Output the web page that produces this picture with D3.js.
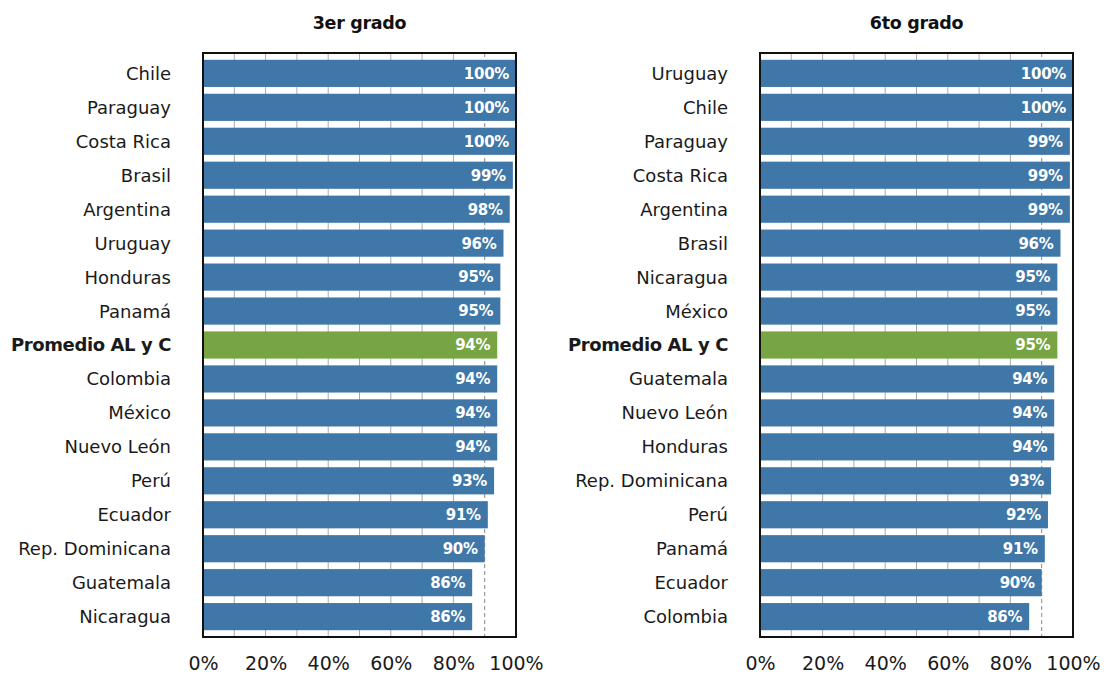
<!DOCTYPE html>
<html>
<head>
<meta charset="utf-8">
<script src="https://cdn.jsdelivr.net/npm/d3@7"></script>
<style>
  body { margin: 0; background: #fff; }
  svg { display: block; }
</style>
</head>
<body>
<div id="chart"></div>
<script>
const countries3 = ['Chile', 'Paraguay', 'Costa Rica', 'Brasil', 'Argentina', 'Uruguay', 'Honduras', 'Panamá',
    'Promedio AL y C', 'Colombia', 'México', 'Nuevo León', 'Perú', 'Ecuador', 'Rep. Dominicana', 'Guatemala', 'Nicaragua'];
const values3 = [100, 100, 100, 99, 98, 96, 95, 95, 94, 94, 94, 94, 93, 91, 90, 86, 86];

const countries6 = ['Uruguay', 'Chile', 'Paraguay', 'Costa Rica', 'Argentina', 'Brasil', 'Nicaragua', 'México',
    'Promedio AL y C', 'Guatemala', 'Nuevo León', 'Honduras', 'Rep. Dominicana', 'Perú', 'Panamá', 'Ecuador', 'Colombia'];
const values6 = [100, 100, 99, 99, 99, 96, 95, 95, 95, 94, 94, 94, 93, 92, 91, 90, 86];

const xTicks = [0, 20, 40, 60, 80, 100];
const gridTicks = [10, 20, 30, 40, 50, 60, 70, 80, 90];
const refLine = 90;
const average = 'Promedio AL y C';
const font = 'DejaVu Sans, sans-serif';

const svg = d3.select('#chart').append('svg')
    .attr('width', 1106)
    .attr('height', 679);

function drawPanel(title, names, values, left, right) {
    const x = d3.scaleLinear().domain([0, 100]).range([left, right]);
    const y = d3.scaleBand().domain(names).range([53, 637]).paddingInner(0.2).paddingOuter(0.2);
    const g = svg.append('g');

    // title
    g.append('text')
        .attr('x', (left + right) / 2)
        .attr('y', 29)
        .attr('text-anchor', 'middle')
        .attr('font-family', font)
        .attr('font-weight', 'bold')
        .attr('font-size', '17.5px')
        .attr('letter-spacing', '-0.3px')
        .attr('fill', '#111')
        .text(title);

    // light grid
    g.selectAll('line.grid')
        .data(gridTicks.filter((t) => t !== refLine))
        .enter()
        .append('line')
        .attr('class', 'grid')
        .attr('x1', (d) => x(d))
        .attr('x2', (d) => x(d))
        .attr('y1', 53)
        .attr('y2', 637)
        .attr('stroke', '#aaa')
        .attr('stroke-width', 1);

    g.append('line')
        .attr('x1', x(refLine))
        .attr('x2', x(refLine))
        .attr('y1', 53)
        .attr('y2', 637)
        .attr('stroke', '#888')
        .attr('stroke-width', 1)
        .attr('stroke-dasharray', '4,3');

    const rows = names.map((n, i) => ({ name: n, value: values[i] }));

    g.selectAll('rect.bar')
        .data(rows)
        .enter()
        .append('rect')
        .attr('class', 'bar')
        .attr('x', x(0))
        .attr('y', (d) => y(d.name))
        .attr('width', (d) => x(d.value) - x(0))
        .attr('height', y.bandwidth())
        .attr('fill', (d) => d.name === average ? '#77a543' : '#3f77a8');

    g.selectAll('text.val')
        .data(rows)
        .enter()
        .append('text')
        .attr('class', 'val')
        .attr('x', (d) => x(d.value) - 7)
        .attr('y', (d) => y(d.name) + y.bandwidth() / 2)
        .attr('dy', '.36em')
        .attr('text-anchor', 'end')
        .attr('font-family', font)
        .attr('font-weight', 'bold')
        .attr('font-size', '15px')
        .attr('letter-spacing', '-0.3px')
        .attr('fill', '#fff')
        .text((d) => d.value + '%');

    g.selectAll('text.cat')
        .data(rows)
        .enter()
        .append('text')
        .attr('class', 'cat')
        .attr('x', left - 32)
        .attr('y', (d) => y(d.name) + y.bandwidth() / 2)
        .attr('dy', '.36em')
        .attr('text-anchor', 'end')
        .attr('font-family', font)
        .attr('font-weight', (d) => d.name === average ? 'bold' : 'normal')
        .attr('font-size', '18px')
        .attr('letter-spacing', (d) => d.name === average ? '-0.4px' : '0px')
        .attr('fill', '#1a1a1a')
        .text((d) => d.name);

    // frame
    g.append('rect')
        .attr('x', left)
        .attr('y', 53)
        .attr('width', right - left)
        .attr('height', 584)
        .attr('fill', 'none')
        .attr('stroke', '#111')
        .attr('stroke-width', 2);

    const axis = d3.axisBottom(x)
        .tickValues(xTicks)
        .tickFormat((d) => d + '%')
        .tickSize(0)
        .tickPadding(20);

    const ax = g.append('g')
        .attr('transform', `translate(0,637)`)
        .call(axis);
    ax.select('.domain').remove();
    ax.selectAll('text')
        .attr('font-family', font)
        .attr('font-size', '19px')
        .attr('fill', '#1a1a1a');
}

drawPanel('3er grado', countries3, values3, 203, 516);
drawPanel('6to grado', countries6, values6, 760, 1073);
</script>
</body>
</html>
